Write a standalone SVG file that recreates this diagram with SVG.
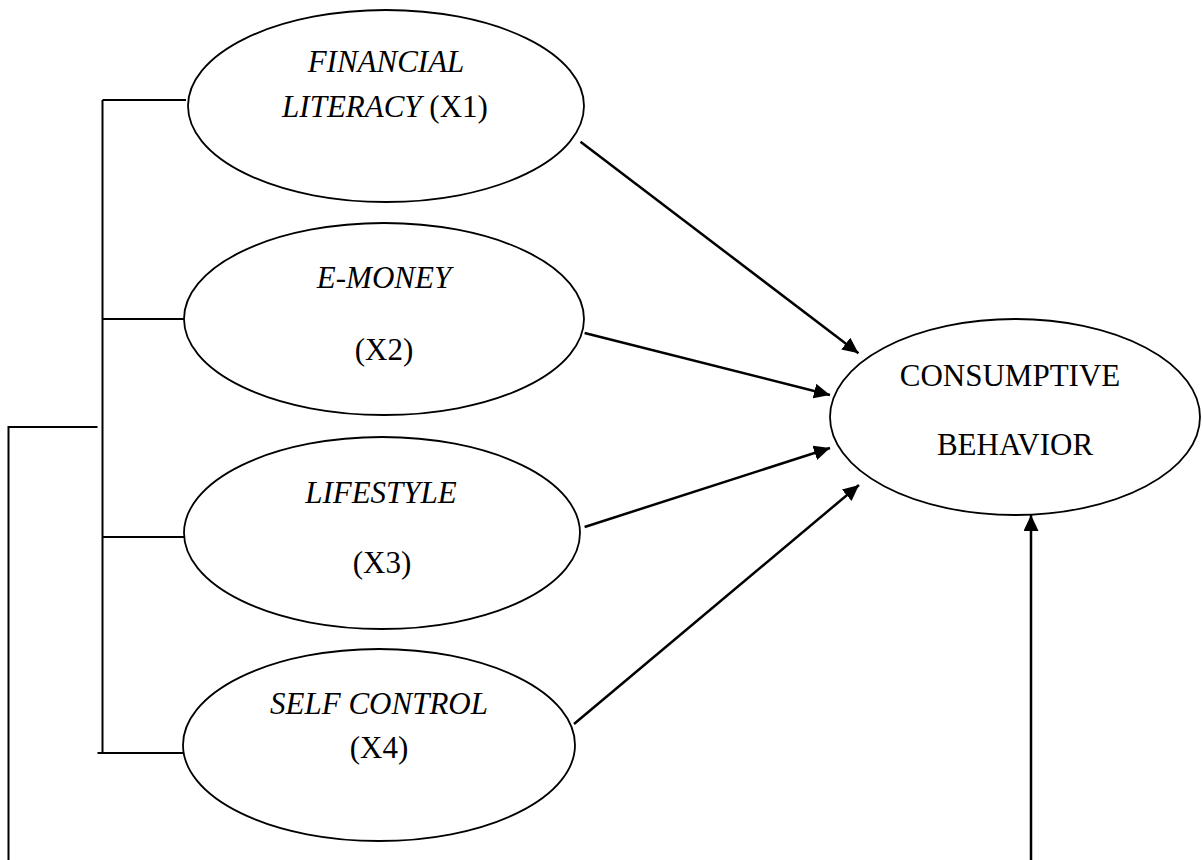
<svg xmlns="http://www.w3.org/2000/svg" width="1202" height="860" viewBox="0 0 1202 860">
<style>
.node ellipse{fill:#fff;stroke:#000;stroke-width:1.8}
text{font-family:"Liberation Serif","Times New Roman",serif;font-size:31px;fill:#000;text-anchor:middle}
.i{font-style:italic}
.br line{stroke:#000;stroke-width:2}
.ar line{stroke:#000;stroke-width:2.5;marker-end:url(#ah)}
</style>
<defs>
<marker id="ah" markerUnits="userSpaceOnUse" markerWidth="16" markerHeight="15" refX="16" refY="7.5" orient="auto">
<path d="M0,0 L16,7.5 L0,15 z" fill="#000"/>
</marker>
</defs>
<rect width="1202" height="860" fill="#fff"/>
<g id="connectors">
<g class="br">
<line x1="102.5" y1="100" x2="102.5" y2="753"/>
<line x1="102.5" y1="100" x2="186" y2="100"/>
<line x1="102.5" y1="319" x2="184" y2="319"/>
<line x1="102.5" y1="537" x2="184" y2="537"/>
<line x1="97.5" y1="753" x2="184" y2="753"/>
<line x1="8.5" y1="427" x2="97.5" y2="427"/>
<line x1="8.5" y1="426" x2="8.5" y2="860"/>
</g>
<g class="ar">
<line x1="580.5" y1="141.7" x2="858.5" y2="353.3"/>
<line x1="584.6" y1="333" x2="830" y2="395"/>
<line x1="584.6" y1="527" x2="830" y2="448"/>
<line x1="574" y1="724" x2="859" y2="485"/>
<line x1="1031" y1="860" x2="1031" y2="515"/>
</g>
</g>
<g id="x1" class="node">
<ellipse cx="386" cy="106" rx="198" ry="96"/>
<text x="386" y="72" class="i">FINANCIAL</text>
<text x="385" y="117"><tspan class="i">LITERACY</tspan> (X1)</text>
</g>
<g id="x2" class="node">
<ellipse cx="384" cy="319" rx="200" ry="96"/>
<text x="384" y="288" class="i">E-MONEY</text>
<text x="384" y="360">(X2)</text>
</g>
<g id="x3" class="node">
<ellipse cx="382" cy="533" rx="198" ry="96"/>
<text x="381" y="503" class="i">LIFESTYLE</text>
<text x="382" y="573">(X3)</text>
</g>
<g id="x4" class="node">
<ellipse cx="379" cy="745" rx="196" ry="96"/>
<text x="379" y="714" class="i">SELF CONTROL</text>
<text x="379" y="758">(X4)</text>
</g>
<g id="y" class="node">
<ellipse cx="1015" cy="417" rx="185" ry="98"/>
<text x="1010" y="386">CONSUMPTIVE</text>
<text x="1015" y="455">BEHAVIOR</text>
</g>
</svg>
